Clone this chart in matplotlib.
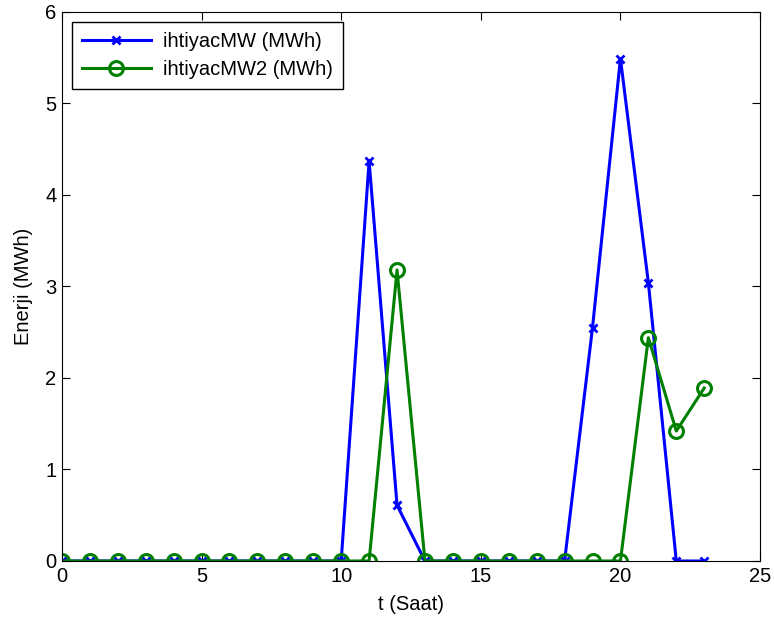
import matplotlib
matplotlib.use('Agg')
import matplotlib.pyplot as plt
import numpy as np

# hours
saat = np.arange(0, 24)
# ihtiyacMW (MWh)
ihtiyac1 = [0, 0, 0, 0, 0, 0, 0, 0, 0, 0, 0, 4.37, 0.61, 0, 0, 0, 0, 0, 0, 2.55, 5.49, 3.04, 0, 0]
# ihtiyacMW2 (MWh)
ihtiyac2 = [0, 0, 0, 0, 0, 0, 0, 0, 0, 0, 0, 0, 3.18, 0, 0, 0, 0, 0, 0, 0, 0, 2.44, 1.42, 1.89]

plt.rcParams['font.family'] = ['Liberation Sans', 'DejaVu Sans']
plt.rcParams['font.size'] = 14.5

fig = plt.figure(figsize=(7.74, 6.25), dpi=100)
ax = fig.add_axes([0.080, 0.1024, 0.902, 0.8786])

ax.plot(saat, ihtiyac1, color='#0000ff', lw=2.2, marker='x', ms=6, mew=2,
        label='ihtiyacMW (MWh)')
ax.plot(saat, ihtiyac2, color='#008000', lw=2.2, marker='o', ms=10, mew=2.2,
        mfc='none', label='ihtiyacMW2 (MWh)')

ax.set_xlim(0, 25)
ax.set_ylim(0, 6)
ax.set_xticks([0, 5, 10, 15, 20, 25])
ax.set_yticks([0, 1, 2, 3, 4, 5, 6])
ax.tick_params(direction='in', top=True, right=True, length=6, pad=4)
ax.set_xlabel('t (Saat)', labelpad=7)
ax.set_ylabel('Enerji (MWh)', labelpad=9)

leg = ax.legend(loc='upper left', fancybox=False, edgecolor='black',
                framealpha=1, handlelength=3.4, borderaxespad=0.5,
                borderpad=0.5, labelspacing=0.45, handletextpad=0.6)
leg.get_frame().set_linewidth(1)

fig.savefig('out.png', dpi=100)
